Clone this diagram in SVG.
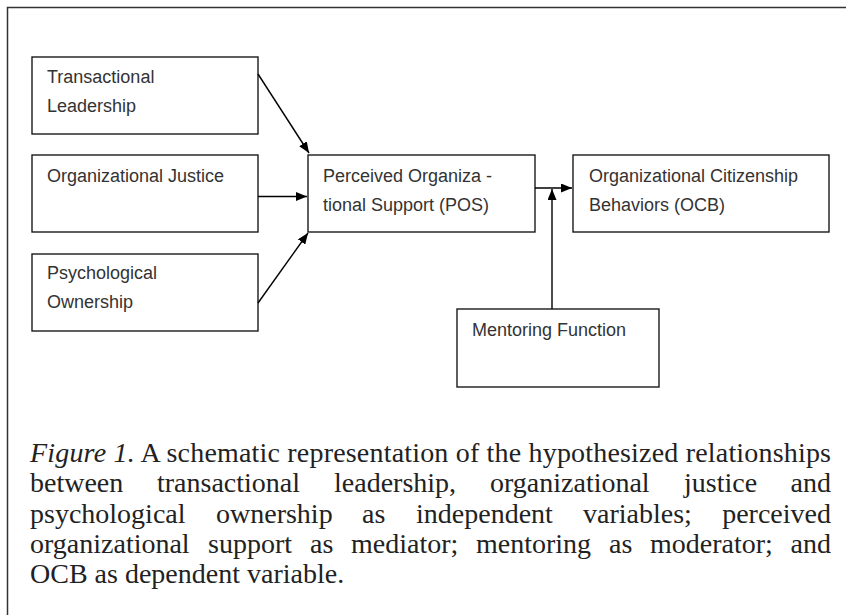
<svg xmlns="http://www.w3.org/2000/svg" width="846" height="615" viewBox="0 0 846 615">
<style>
.box{fill:#fff;stroke:#1a1a1a;stroke-width:1.4}
.lbl{font-family:"Liberation Sans",Arial,sans-serif;font-size:18px;fill:#333}
.conn{stroke:#000;stroke-width:1.4;fill:none}
.cap{font-family:"Liberation Serif","Times New Roman",serif;font-size:28px;fill:#222}
.frame{stroke:#333;stroke-width:1.5;fill:none}
</style>
<defs>
<marker id="ah" markerWidth="11" markerHeight="9" refX="11" refY="4.5" orient="auto" markerUnits="userSpaceOnUse">
<path d="M0,0 L11,4.5 L0,9 z" fill="#000"/>
</marker>
</defs>
<rect width="846" height="615" fill="#fff"/>
<path class="frame" d="M846,7.5 H7.5 V615"/>
<g id="transactional-leadership">
<rect class="box" x="32" y="57" width="226" height="77"/>
<text class="lbl" x="47" y="83">Transactional</text>
<text class="lbl" x="47" y="112">Leadership</text>
</g>
<g id="organizational-justice">
<rect class="box" x="32" y="155" width="226" height="77"/>
<text class="lbl" x="47" y="182">Organizational Justice</text>
</g>
<g id="psychological-ownership">
<rect class="box" x="32" y="254" width="226" height="77"/>
<text class="lbl" x="47" y="279">Psychological</text>
<text class="lbl" x="47" y="308">Ownership</text>
</g>
<g id="pos">
<rect class="box" x="308" y="155" width="227" height="77"/>
<text class="lbl" x="323" y="182">Perceived Organiza -</text>
<text class="lbl" x="323" y="211">tional Support (POS)</text>
</g>
<g id="ocb">
<rect class="box" x="573" y="155" width="256" height="77"/>
<text class="lbl" x="589" y="182">Organizational Citizenship</text>
<text class="lbl" x="589" y="211">Behaviors (OCB)</text>
</g>
<g id="mentoring-function">
<rect class="box" x="457" y="309" width="202" height="78"/>
<text class="lbl" x="472" y="336">Mentoring Function</text>
</g>
<g id="connectors">
<line class="conn" x1="258" y1="74" x2="309" y2="153" marker-end="url(#ah)"/>
<line class="conn" x1="258" y1="196.5" x2="307" y2="196.5" marker-end="url(#ah)"/>
<line class="conn" x1="258" y1="303" x2="308" y2="233" marker-end="url(#ah)"/>
<line class="conn" x1="535" y1="188" x2="572" y2="188" marker-end="url(#ah)"/>
<line class="conn" x1="552" y1="309" x2="552" y2="189" marker-end="url(#ah)"/>
</g>
<g id="caption">
<text class="cap" x="30" y="462" textLength="801" lengthAdjust="spacing"><tspan font-style="italic">Figure 1.</tspan> A schematic representation of the hypothesized relationships</text>
<text class="cap" y="492"><tspan x="30">between</tspan><tspan x="157">transactional</tspan><tspan x="334">leadership,</tspan><tspan x="490">organizational</tspan><tspan x="684">justice</tspan></text>
<text class="cap" x="831" y="492" text-anchor="end">and</text>
<text class="cap" y="523"><tspan x="30">psychological</tspan><tspan x="216">ownership</tspan><tspan x="362">as</tspan><tspan x="416">independent</tspan><tspan x="583">variables;</tspan></text>
<text class="cap" x="831" y="523" text-anchor="end">perceived</text>
<text class="cap" y="553"><tspan x="30">organizational</tspan><tspan x="208">support</tspan><tspan x="310">as</tspan><tspan x="351">mediator;</tspan><tspan x="476">mentoring</tspan><tspan x="609">as</tspan><tspan x="650">moderator;</tspan></text>
<text class="cap" x="831" y="553" text-anchor="end">and</text>
<text class="cap" x="30" y="583">OCB as dependent variable.</text>
</g>
</svg>
